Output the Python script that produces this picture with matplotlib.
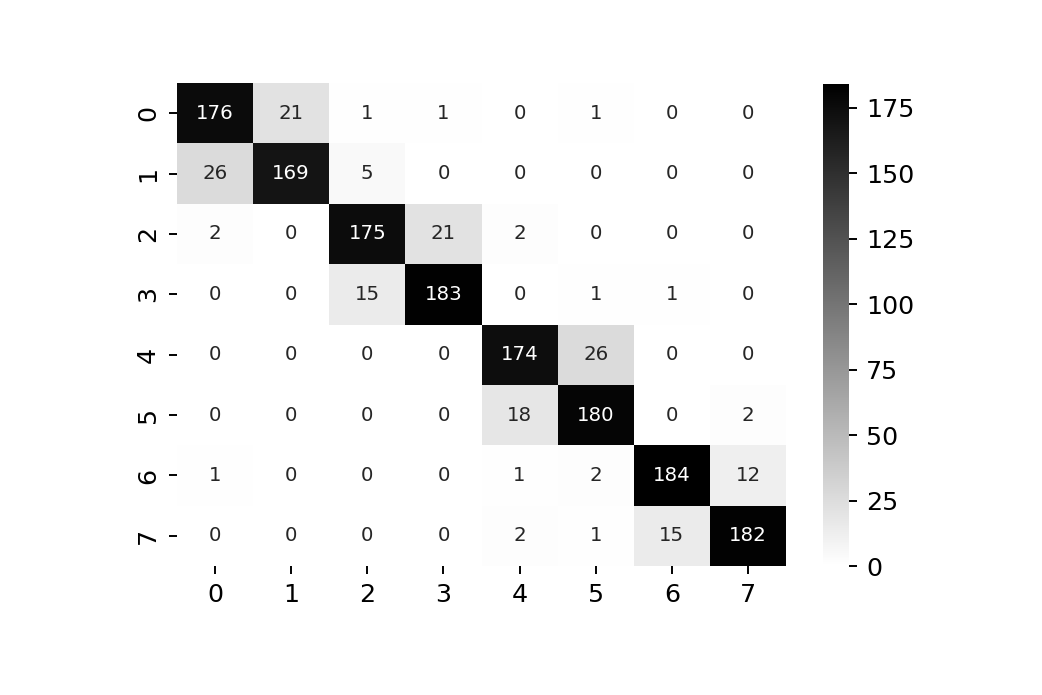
import matplotlib
matplotlib.use("Agg")
import matplotlib.pyplot as plt
import numpy as np
import seaborn as sns

# confusion matrix values, rows = true class, cols = predicted class
labels = ["0", "1", "2", "3", "4", "5", "6", "7"]
row0 = [176, 21, 1, 1, 0, 1, 0, 0]
row1 = [26, 169, 5, 0, 0, 0, 0, 0]
row2 = [2, 0, 175, 21, 2, 0, 0, 0]
row3 = [0, 0, 15, 183, 0, 1, 1, 0]
row4 = [0, 0, 0, 0, 174, 26, 0, 0]
row5 = [0, 0, 0, 0, 18, 180, 0, 2]
row6 = [1, 0, 0, 0, 1, 2, 184, 12]
row7 = [0, 0, 0, 0, 2, 1, 15, 182]

cm = np.array([row0, row1, row2, row3, row4, row5, row6, row7])

W, H = 1042, 695
dpi = 173.7
fig = plt.figure(figsize=(W / dpi, H / dpi), dpi=dpi)
ax = fig.add_axes([177 / W, (H - 566) / H, 609 / W, 483 / H])
cax = fig.add_axes([823 / W, (H - 566) / H, 26 / W, 482 / H])

sns.heatmap(cm, annot=True, fmt="d", cmap="binary", ax=ax, cbar_ax=cax,
            xticklabels=labels, yticklabels=labels, annot_kws={"fontsize": 8.2})

ax.tick_params(axis="both", labelsize=10.5)
ax.set_yticklabels(labels, rotation=90, va="center")
ax.set_xticklabels(labels, rotation=0)
cax.tick_params(labelsize=10.5)

fig.savefig("out.png", dpi=dpi)
